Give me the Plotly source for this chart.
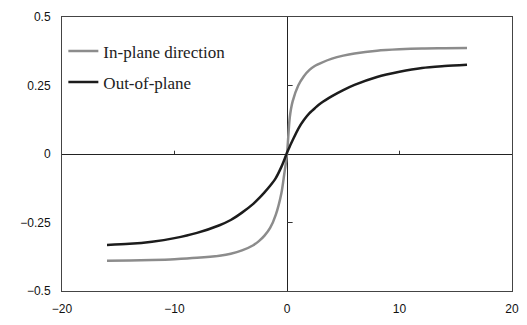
import plotly.graph_objects as go

field = [-16, -14, -12, -10, -8, -6, -5, -4, -3, -2.5, -2, -1.5, -1, -0.5, -0.25, 0,
         0.25, 0.5, 1, 1.5, 2, 2.5, 3, 4, 5, 6, 8, 10, 12, 14, 16]
in_plane = [-0.390, -0.389, -0.387, -0.384, -0.379, -0.371, -0.364, -0.352, -0.333,
            -0.318, -0.298, -0.270, -0.222, -0.143, -0.075, 0.0,
            0.135, 0.192, 0.250, 0.284, 0.307, 0.322, 0.332, 0.348, 0.359, 0.367,
            0.377, 0.382, 0.385, 0.386, 0.387]
out_of_plane = [-0.332, -0.328, -0.320, -0.307, -0.288, -0.260, -0.241, -0.214, -0.182,
                -0.162, -0.140, -0.116, -0.088, -0.047, -0.022, 0.005,
                0.028, 0.050, 0.092, 0.124, 0.149, 0.168, 0.185, 0.211, 0.233, 0.252,
                0.281, 0.300, 0.314, 0.321, 0.326]

x_ticks = [-20, -10, 0, 10, 20]
x_labels = ["−20", "−10", "0", "10", "20"]
y_ticks = [-0.5, -0.25, 0, 0.25, 0.5]
y_labels = ["−0.5", "−0.25", "0", "0.25", "0.5"]

fig = go.Figure()
fig.add_trace(go.Scatter(x=field, y=in_plane, mode="lines", name="In-plane direction",
                         line=dict(color="#8c8c8c", width=2.5, shape="spline", smoothing=0.8),
                         legendgroup="a"))
fig.add_trace(go.Scatter(x=field, y=out_of_plane, mode="lines", name="Out-of-plane",
                         line=dict(color="#1c1c1c", width=2.5, shape="spline", smoothing=0.8),
                         legendgroup="b"))

# small inner ticks on the zero axes
shapes = []
for t in [-10, 10]:
    shapes.append(dict(type="line", xref="x", yref="y", x0=t, x1=t, y0=0, y1=0.012,
                       line=dict(color="#333", width=1)))
for t in [-0.25, 0.25]:
    shapes.append(dict(type="line", xref="x", yref="y", x0=0, x1=0.5, y0=t, y1=t,
                       line=dict(color="#333", width=1)))

fig.update_layout(
    width=527, height=325,
    margin=dict(l=62, r=8, t=17, b=34),
    paper_bgcolor="white", plot_bgcolor="white",
    showlegend=True,
    legend=dict(x=0.003, y=0.94, xanchor="left", yanchor="top",
                bgcolor="rgba(0,0,0,0)", tracegroupgap=6,
                font=dict(family="Liberation Serif", size=17, color="#222")),
    shapes=shapes,
    xaxis=dict(range=[-20, 20], tickvals=x_ticks, ticktext=x_labels,
               showgrid=False, zeroline=True, zerolinecolor="#222", zerolinewidth=1,
               showline=True, linecolor="#444", linewidth=1, mirror=True, ticks="",
               ticklabelstandoff=7,
               tickfont=dict(family="Liberation Sans", size=12, color="#111")),
    yaxis=dict(range=[-0.5, 0.5], tickvals=y_ticks, ticktext=y_labels,
               showgrid=False, zeroline=True, zerolinecolor="#222", zerolinewidth=1,
               showline=True, linecolor="#444", linewidth=1, mirror=True, ticks="",
               ticklabelstandoff=8,
               tickfont=dict(family="Liberation Sans", size=12, color="#111")),
)

fig.write_html("out.html")
